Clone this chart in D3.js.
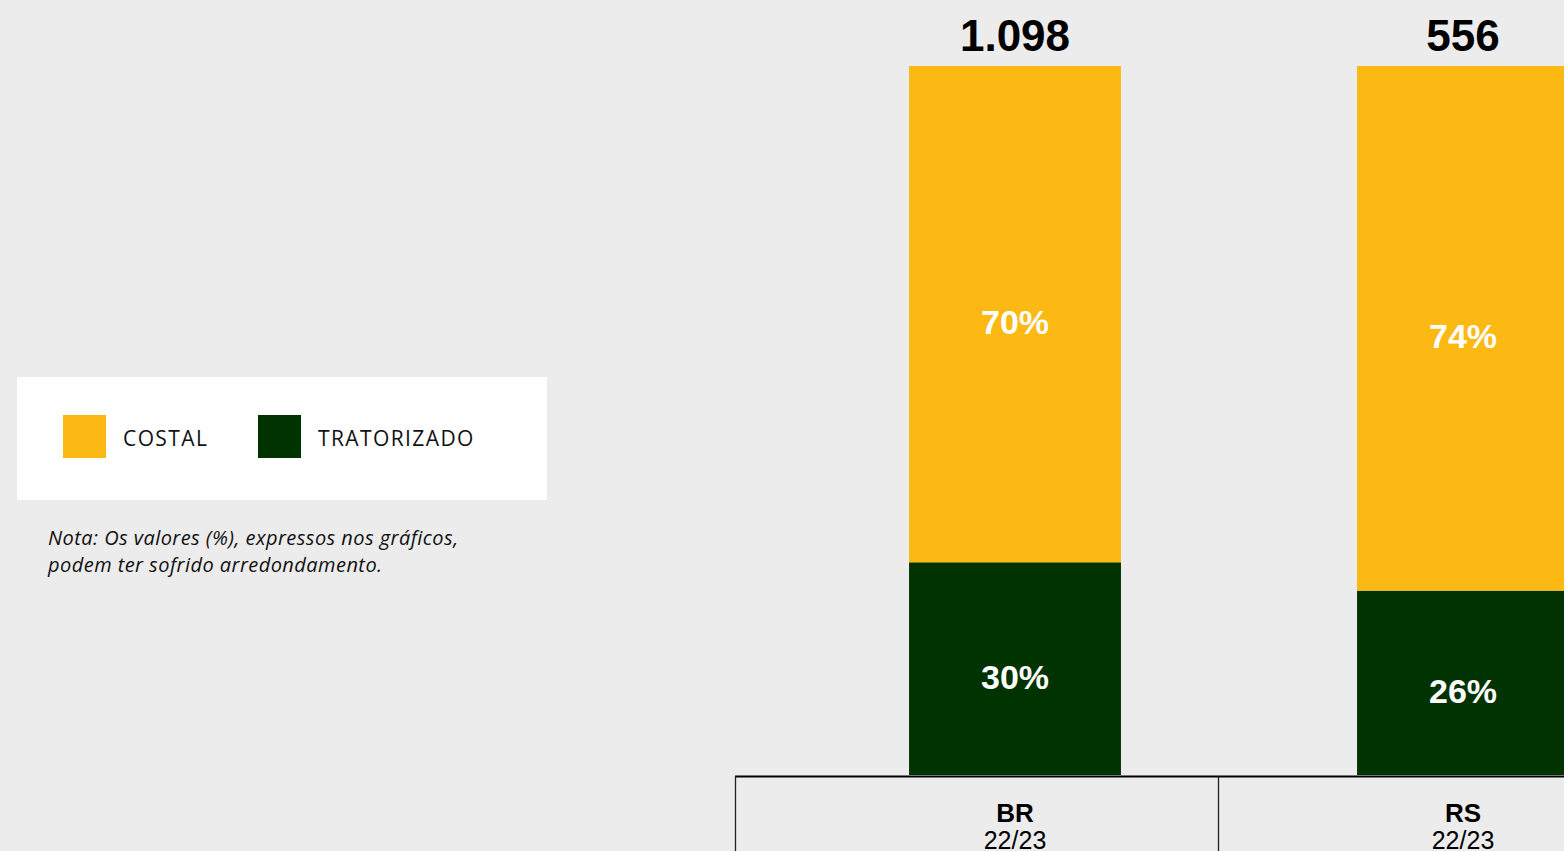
<!DOCTYPE html>
<html><head><meta charset="utf-8">
<script src="https://cdn.jsdelivr.net/npm/d3@7"></script>
<style>
html,body{margin:0;padding:0;background:#ececec;overflow:hidden;}
svg{display:block;}
</style></head>
<body>
<script>
const categories = ["BR", "RS"];
const periods = ["22/23", "22/23"];
const totals = ["1.098", "556"];
const series = ["COSTAL", "TRATORIZADO"];
const costal = [70, 74];
const tratorizado = [30, 26];
const note = ["Nota: Os valores (%), expressos nos gráficos,", "podem ter sofrido arredondamento."];

const W = 1564, H = 851;
const colors = {COSTAL: "#FDB913", TRATORIZADO: "#003300"};
const narrow = "'Liberation Sans Narrow', 'Liberation Sans', Arial, sans-serif";
const sans = "'Open Sans', 'Noto Sans', sans-serif";

const svg = d3.select("body").append("svg").attr("width", W).attr("height", H);
svg.append("rect").attr("width", W).attr("height", H).attr("fill", "#ececec");

const x = d3.scaleBand().domain(categories).range([791, 1687]).paddingInner(0.527).paddingOuter(0.2635);
const y = d3.scaleLinear().domain([0, 100]).range([775, 66]);

const rows = categories.map((c, i) => ({cat: c, COSTAL: costal[i], TRATORIZADO: tratorizado[i]}));
const stack = d3.stack().keys(["TRATORIZADO", "COSTAL"])(rows);

const g = svg.append("g");
stack.forEach(layer => {
  g.selectAll(null).data(layer).join("rect")
    .attr("x", d => x(d.data.cat))
    .attr("width", x.bandwidth())
    .attr("y", d => y(d[1]))
    .attr("height", d => y(d[0]) - y(d[1]))
    .attr("fill", colors[layer.key]);
  g.selectAll(null).data(layer).join("text")
    .attr("x", d => x(d.data.cat) + x.bandwidth() / 2)
    .attr("y", d => (y(d[0]) + y(d[1])) / 2 + 20)
    .attr("text-anchor", "middle")
    .attr("font-family", narrow)
    .attr("font-weight", "bold")
    .attr("font-size", 34)
    .attr("fill", "#ffffff")
    .text(d => d.data[layer.key] + "%");
});

// totals
g.selectAll(null).data(categories).join("text")
  .attr("x", d => x(d) + x.bandwidth() / 2)
  .attr("y", 51)
  .attr("text-anchor", "middle")
  .attr("font-family", narrow)
  .attr("font-weight", "bold")
  .attr("font-size", 44)
  .attr("fill", "#000")
  .text((d, i) => totals[i]);

// axis
const axisY = 776.5;
svg.append("line").attr("x1", 735).attr("x2", W).attr("y1", axisY).attr("y2", axisY)
  .attr("stroke", "#000").attr("stroke-width", 2.2);
const seps = [735, (x("BR") + x.bandwidth() + x("RS")) / 2 - 21];
svg.selectAll(null).data(seps).join("line")
  .attr("x1", d => d + 0.5).attr("x2", d => d + 0.5)
  .attr("y1", axisY).attr("y2", H)
  .attr("stroke", "#222").attr("stroke-width", 1.3);
svg.selectAll(null).data(categories).join("text")
  .attr("x", d => x(d) + x.bandwidth() / 2)
  .attr("y", 822)
  .attr("text-anchor", "middle")
  .attr("font-family", narrow)
  .attr("font-weight", "bold")
  .attr("font-size", 26)
  .attr("fill", "#000")
  .text(d => d);
svg.selectAll(null).data(categories).join("text")
  .attr("x", d => x(d) + x.bandwidth() / 2)
  .attr("y", 849)
  .attr("text-anchor", "middle")
  .attr("font-family", narrow)
  .attr("font-size", 25)
  .attr("fill", "#000")
  .text((d, i) => periods[i]);

// legend
const leg = svg.append("g");
leg.append("rect").attr("x", 17).attr("y", 377).attr("width", 530).attr("height", 123).attr("fill", "#fff");
const legX = [63, 258];
series.forEach((s, i) => {
  leg.append("rect").attr("x", legX[i]).attr("y", 415).attr("width", 43).attr("height", 43).attr("fill", colors[s]);
  leg.append("text").attr("x", legX[i] + 60).attr("y", 446)
    .attr("font-family", sans).attr("font-size", 21).attr("letter-spacing", 1.4)
    .attr("fill", "#111").text(s);
});

// note
svg.selectAll(null).data(note).join("text")
  .attr("x", 48).attr("y", (d, i) => 545 + i * 27)
  .attr("font-family", sans).attr("font-style", "italic").attr("font-size", 20)
  .attr("letter-spacing", 0.45)
  .attr("fill", "#111").text(d => d);
</script>
</body></html>
